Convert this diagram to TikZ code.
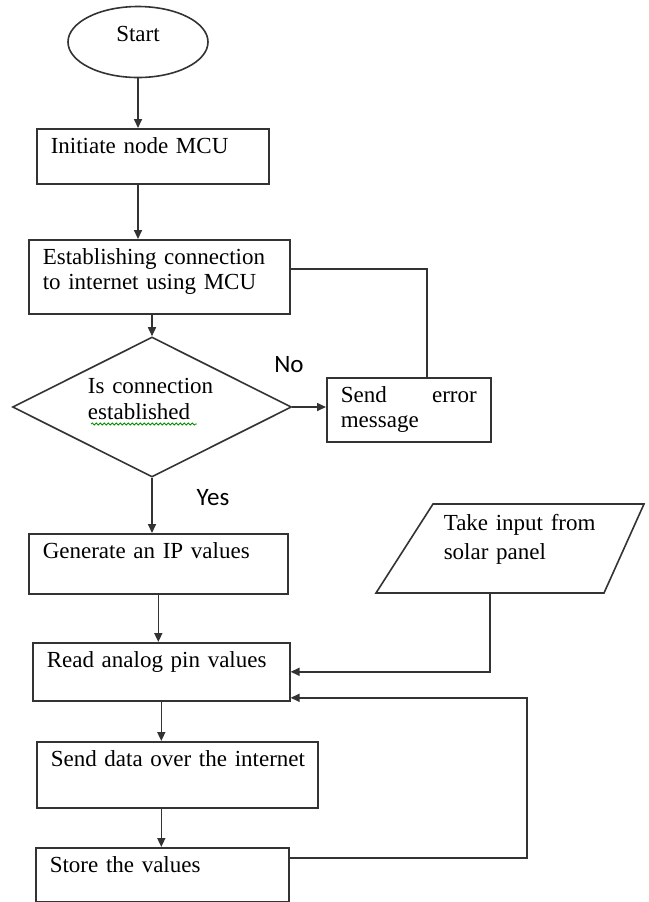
\documentclass[tikz,border=0pt]{standalone}
\usepackage{fontspec}
\setmainfont{Liberation Serif}
\newfontfamily\yesnofont{Carlito}
\usetikzlibrary{shapes.geometric,arrows.meta,decorations.pathmorphing,calc}

\begin{document}
\begin{tikzpicture}[x=0.5pt, y=-0.5pt, line width=0.8pt,
        boxfont/.style={font=\fontsize{11.5}{12.5}\selectfont},
        procbox/.style={boxfont, draw=black!80, rectangle, anchor=north west, align=left,
            inner xsep=7pt, inner ysep=0pt, text height=12.5pt},
        conn/.style={draw=black!80},
        arr/.style={conn, -{Triangle[length=4.5pt,width=4pt]}},
        yesno/.style={font=\yesnofont\fontsize{12.5}{14}\selectfont, inner sep=0pt}]

        \useasboundingbox (0,0) rectangle (649,902);

        \node[boxfont, draw=black!80, ellipse, minimum width=70pt, minimum height=35.5pt, inner sep=0pt,
            text height=8pt, text depth=9pt] (start) at (138,42) {Start};
        \node[procbox, text width=102pt, text depth=15pt] (init) at (36,128) {Initiate node MCU};
        \node[procbox, text width=116.5pt, text depth=24.5pt] (estab) at (28,239)
            {Establishing connection\\to internet using MCU};
        \node[draw=black!80, diamond, aspect=2, minimum width=139.5pt, minimum height=70pt, inner sep=0pt,
            align=left, text width=64pt, text height=8.5pt, text depth=22.5pt,
            font=\fontsize{11.5}{13}\selectfont] (check) at (152,407) {Is connection\\established};
        \node[procbox, align=justify, text width=68pt, text depth=19.5pt] (senderr) at (326,377)
            {Send error message};
        \node[procbox, text width=115.5pt, text depth=17.5pt] (gen) at (28,533) {Generate an IP values};
        \node[anchor=north west, inner sep=0pt, align=left, text width=80pt, text height=8.5pt,
            font=\fontsize{11.5}{14.5}\selectfont] (input) at (443,513) {Take input from\\solar panel};
        \node[procbox, text width=114.5pt, text depth=16.5pt] (read) at (32,642) {Read analog pin values};
        \node[procbox, text width=126.5pt, text depth=20.5pt] (send) at (36,741) {\mbox{Send data over the internet}};
        \node[procbox, text width=112.5pt, text depth=14.5pt] (store) at (35,847) {Store the values};

        \node[yesno] (no) at (289,365) {No};
        \node[yesno] (yes) at (213,498) {Yes};

        \draw[conn] (433,504) coordinate (pgtl) -- (644,504) coordinate (pgtr)
            -- (604,593) coordinate (pgbr) -- (376,593) coordinate (pgbl) -- cycle;
        \coordinate (inbot) at ($(pgbl)!0.5!(pgbr)$);

        \draw[green!55!black, line width=0.4pt, decorate, decoration={snake, amplitude=0.5pt, segment length=2pt}]
            (91,424) -- (197,424);

        \draw[arr] (start.south) -- (start.south |- init.north);
        \draw[arr] (start.south |- init.south) -- (start.south |- estab.north);
        \draw[arr] (check.north |- estab.south) -- (check.north);
        \draw[arr] (check.east) -- (check.east -| senderr.west);
        \draw[conn] ([yshift=4pt]estab.east) -| ([xshift=9pt]senderr.north);
        \draw[arr] (check.south) -- (check.south |- gen.north);
        \draw[arr] (gen.south) -- (gen.south |- read.north);
        \draw[arr] (inbot) |- (read.east);
        \coordinate (back) at (527,858);
        \draw[arr] (store.east |- back) -- (back) |- ([yshift=-13pt]read.east);
        \draw[arr] (read.south) -- (read.south |- send.north);
        \draw[arr] (read.south |- send.south) -- (read.south |- store.north);
    \end{tikzpicture}
\end{document}
